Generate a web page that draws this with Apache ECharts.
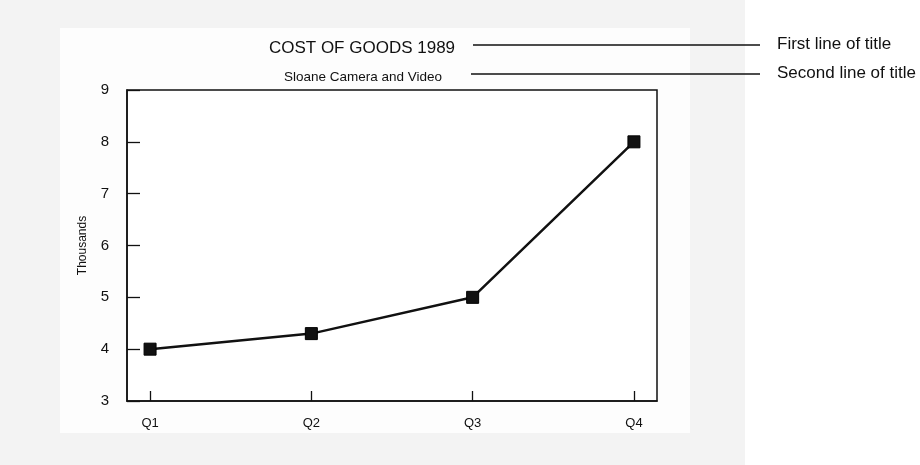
<!DOCTYPE html>
<html>
<head>
<meta charset="utf-8">
<title>Cost of Goods 1989</title>
<script src="https://cdn.jsdelivr.net/npm/echarts@6/dist/echarts.min.js"></script>
<style>
  html, body { margin: 0; padding: 0; background: #ffffff; }
  #chart { width: 920px; height: 465px; }
</style>
</head>
<body>
<div id="chart"></div>
<script>
// Quarterly cost of goods, in thousands
const categories = ['Q1', 'Q2', 'Q3', 'Q4'];
const costValues = [4.0, 4.3, 5.0, 8.0];
const yTicks = [3, 4, 5, 6, 7, 8, 9];

const titleText = 'COST OF GOODS 1989';
const subtitleText = 'Sloane Camera and Video';
const calloutTexts = ['First line of title', 'Second line of title'];

const font = '"Liberation Sans", Arial, sans-serif';

const chart = echarts.init(document.getElementById('chart'), null, { renderer: 'canvas' });

const positions = categories.map((c, i) => i + 1);
const seriesData = costValues.map((v, i) => [positions[i], v]);

chart.setOption({
  animation: false,
  backgroundColor: '#ffffff',
  title: [
    {
      text: titleText,
      left: 357, top: 35, textAlign: 'center',
      textStyle: { fontFamily: font, fontSize: 17, fontWeight: 'normal', color: '#111' }
    },
    {
      text: subtitleText,
      left: 358, top: 65, textAlign: 'center',
      textStyle: { fontFamily: font, fontSize: 13.5, fontWeight: 'normal', color: '#111' }
    }
  ],
  graphic: [
    // paper tone around the figure
    { type: 'rect', silent: true, z: -10, shape: { x: 0, y: 0, width: 745, height: 465 }, style: { fill: '#f3f3f3' } },
    { type: 'rect', silent: true, z: -9, shape: { x: 60, y: 28, width: 630, height: 405 }, style: { fill: '#fdfdfd' } },
    { type: 'rect', silent: true, z: -9, shape: { x: 745, y: 28, width: 175, height: 437 }, style: { fill: '#ffffff' } },
    // callout leader lines and labels
    { type: 'line', shape: { x1: 473, y1: 45, x2: 760, y2: 45 }, style: { stroke: '#111', lineWidth: 1.3 } },
    { type: 'line', shape: { x1: 471, y1: 74, x2: 760, y2: 74 }, style: { stroke: '#111', lineWidth: 1.3 } },
    { type: 'text', left: 777, top: 36, style: { text: calloutTexts[0], fontFamily: font, fontSize: 17, fill: '#111' } },
    { type: 'text', left: 777, top: 65, style: { text: calloutTexts[1], fontFamily: font, fontSize: 17, fill: '#111' } }
  ],
  grid: {
    left: 127, top: 90, right: 263, bottom: 64,
    show: true, backgroundColor: '#ffffff', borderColor: '#111', borderWidth: 1.5
  },
  xAxis: {
    type: 'value',
    min: 0.857, max: 4.143,
    splitLine: { show: false },
    axisLine: { show: true, onZero: false, lineStyle: { color: '#111', width: 1.5 } },
    axisTick: { show: true, inside: true, length: 10, customValues: positions, lineStyle: { color: '#111', width: 1.3 } },
    axisLabel: {
      customValues: positions,
      margin: 16,
      fontFamily: font, fontSize: 13, color: '#111',
      formatter: v => categories[Math.round(v) - 1] || ''
    }
  },
  yAxis: {
    type: 'value',
    min: yTicks[0], max: yTicks[yTicks.length - 1], interval: 1,
    name: 'Thousands',
    nameLocation: 'middle',
    nameGap: 38,
    nameRotate: 90,
    nameTextStyle: { fontFamily: font, fontSize: 12, color: '#111' },
    splitLine: { show: false },
    axisLine: { show: true, lineStyle: { color: '#111', width: 1.5 } },
    axisTick: { show: true, inside: true, length: 13, lineStyle: { color: '#111', width: 1.3 } },
    axisLabel: { margin: 18, fontFamily: font, fontSize: 15, color: '#111' }
  },
  series: [
    {
      type: 'line',
      data: seriesData,
      symbol: 'rect',
      symbolSize: 12,
      showSymbol: true,
      itemStyle: { color: '#111', borderColor: '#000', borderWidth: 1 },
      lineStyle: { color: '#111', width: 2.5 }
    }
  ]
});
</script>
</body>
</html>
